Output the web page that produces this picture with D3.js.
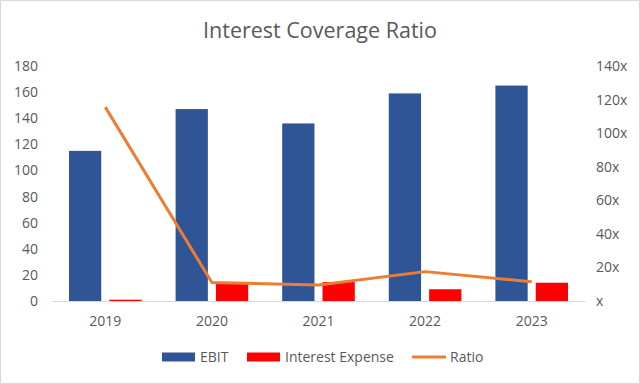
<!DOCTYPE html>
<html>
<head>
<meta charset="utf-8">
<script src="https://cdn.jsdelivr.net/npm/d3@7"></script>
<style>
  body { margin: 0; background: #fff; }
  svg text { font-family: "Open Sans", "Noto Sans", sans-serif; fill: #595959; }
</style>
</head>
<body>
<div id="chart"></div>
<script>
// data
var years = ["2019", "2020", "2021", "2022", "2023"];
var ebit = [115, 147, 136, 159, 165];
var interestExpense = [1, 13, 14.5, 9, 14];
var ratio = [115.5, 11, 9.5, 17.5, 11.5];
var leftTicks = [0, 20, 40, 60, 80, 100, 120, 140, 160, 180];
var rightTicks = [0, 20, 40, 60, 80, 100, 120, 140];

var W = 640, H = 384;
var margin = { top: 66, right: 55, bottom: 83, left: 52 };
var width = W - margin.left - margin.right,
  height = H - margin.top - margin.bottom;

var svg = d3.select("#chart")
  .append("svg")
  .attr("width", W)
  .attr("height", H);

// chart border
svg.append("rect")
  .attr("x", 0.5).attr("y", 0.5)
  .attr("width", W - 1).attr("height", H - 1)
  .attr("fill", "#fff")
  .attr("stroke", "#d9d9d9");

// title
svg.append("text")
  .attr("x", W / 2)
  .attr("y", 38)
  .attr("text-anchor", "middle")
  .style("font-size", "21.5px")
  .text("Interest Coverage Ratio");

var g = svg.append("g")
  .attr("transform", "translate(" + margin.left + "," + margin.top + ")");

var x = d3.scaleBand()
  .domain(years)
  .range([0, width]);

var xSub = d3.scaleBand()
  .domain(["ebit", "int"])
  .range([17, x.bandwidth() - 17])
  .paddingInner(0.2);

var y = d3.scaleLinear().domain([0, 180]).range([height, 0]);
var y2 = d3.scaleLinear().domain([0, 140]).range([height, 0]);

// left axis
var yAxis = g.append("g")
  .call(d3.axisLeft(y).tickValues(leftTicks).tickSize(0).tickPadding(14));
yAxis.select(".domain").remove();
yAxis.selectAll("text").style("font-size", "14px");

// right axis
var yAxis2 = g.append("g")
  .attr("transform", "translate(" + width + ",0)")
  .call(d3.axisRight(y2).tickValues(rightTicks).tickSize(0).tickPadding(11)
    .tickFormat(function(d) { return d === 0 ? "x" : d + "x"; }));
yAxis2.select(".domain").remove();
yAxis2.selectAll("text").style("font-size", "14px");

// bars
var groups = g.selectAll(".yr")
  .data(years)
  .enter()
  .append("g")
  .attr("transform", function(d) { return "translate(" + x(d) + ",0)"; });

groups.append("rect")
  .attr("x", xSub("ebit"))
  .attr("width", xSub.bandwidth())
  .attr("y", function(d, i) { return y(ebit[i]); })
  .attr("height", function(d, i) { return height - y(ebit[i]); })
  .attr("fill", "#2f5597");

groups.append("rect")
  .attr("x", xSub("int"))
  .attr("width", xSub.bandwidth())
  .attr("y", function(d, i) { return y(interestExpense[i]); })
  .attr("height", function(d, i) { return height - y(interestExpense[i]); })
  .attr("fill", "#ff0000");

// bottom axis
var xAxis = g.append("g")
  .attr("transform", "translate(0," + height + ")")
  .call(d3.axisBottom(x).tickSize(0).tickPadding(15));
xAxis.select(".domain").attr("stroke", "#d9d9d9");
xAxis.selectAll("text").style("font-size", "14px");

// ratio line
var line = d3.line()
  .x(function(d, i) { return x(years[i]) + x.bandwidth() / 2; })
  .y(function(d) { return y2(d); });

g.append("path")
  .datum(ratio)
  .attr("d", line)
  .attr("fill", "none")
  .attr("stroke", "#ed7d31")
  .attr("stroke-width", 3)
  .attr("stroke-linejoin", "round");

// legend
var legend = svg.append("g").attr("transform", "translate(0,357)");
var items = [
  { name: "EBIT", color: "#2f5597", type: "rect", x: 162 },
  { name: "Interest Expense", color: "#ff0000", type: "rect", x: 247 },
  { name: "Ratio", color: "#ed7d31", type: "line", x: 412 }
];
items.forEach(function(it) {
  if (it.type === "rect") {
    legend.append("rect")
      .attr("x", it.x).attr("y", -4.5)
      .attr("width", 33).attr("height", 9)
      .attr("fill", it.color);
  } else {
    legend.append("line")
      .attr("x1", it.x).attr("x2", it.x + 34)
      .attr("y1", 0).attr("y2", 0)
      .attr("stroke", it.color).attr("stroke-width", 3);
  }
  legend.append("text")
    .attr("x", it.x + 38)
    .attr("y", 5)
    .style("font-size", "14px")
    .text(it.name);
});
</script>
</body>
</html>
